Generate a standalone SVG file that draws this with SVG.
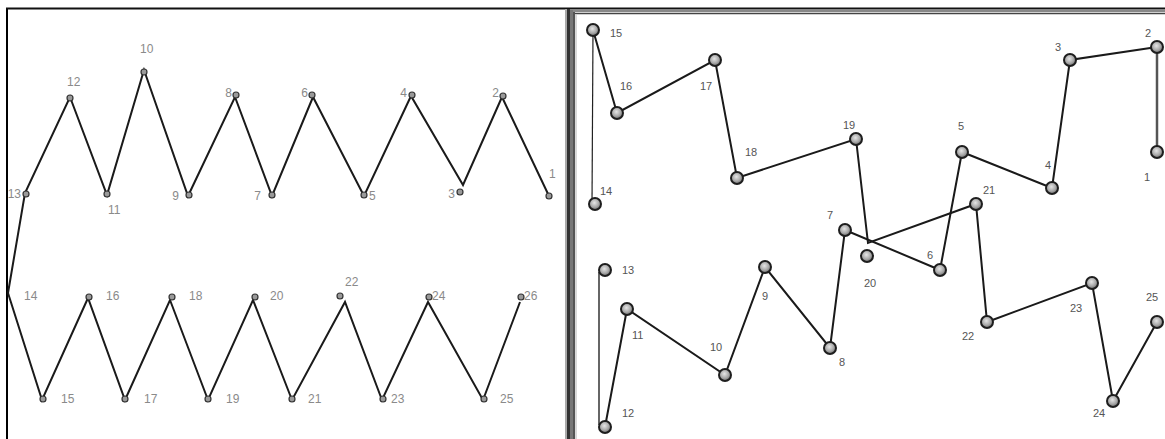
<svg xmlns="http://www.w3.org/2000/svg" width="1165" height="439" viewBox="0 0 1165 439">
<style>
.ln{stroke:#1a1a1a;stroke-width:2;fill:none;stroke-linejoin:miter}
.sn{fill:#9a9a9a;stroke:#333;stroke-width:1.2}
.lt{font-family:"Liberation Sans",Arial,sans-serif;font-size:12px;fill:#8a8a8a}
.rt{font-family:"Liberation Sans",Arial,sans-serif;font-size:11px;fill:#555}
.bn{fill:url(#sph);stroke:#1e1e1e;stroke-width:2}
</style>
<defs>
<radialGradient id="sph" cx="45%" cy="40%" r="60%">
<stop offset="0" stop-color="#e6e6e6"/>
<stop offset="0.6" stop-color="#a8a8a8"/>
<stop offset="1" stop-color="#6a6a6a"/>
</radialGradient>
</defs>
<rect width="1165" height="439" fill="#fff"/>
<!-- frames -->
<g id="frames">
<line x1="7" y1="8" x2="7" y2="439" stroke="#000" stroke-width="2"/>
<line x1="6" y1="8.5" x2="1165" y2="8.5" stroke="#111" stroke-width="2"/>
<line x1="566" y1="11" x2="1165" y2="11" stroke="#888" stroke-width="2"/>
<line x1="570" y1="13.5" x2="1165" y2="13.5" stroke="#444" stroke-width="1.5"/>
<line x1="566" y1="9" x2="566" y2="439" stroke="#aaa" stroke-width="2"/>
<line x1="568.5" y1="9" x2="568.5" y2="439" stroke="#333" stroke-width="3"/>
<line x1="571.5" y1="10" x2="571.5" y2="439" stroke="#777" stroke-width="3"/>
<line x1="574" y1="12" x2="574" y2="439" stroke="#555" stroke-width="2"/>
<line x1="576" y1="14" x2="576" y2="439" stroke="#ccc" stroke-width="1.5"/>
</g>
<!-- connectors -->
<g id="connectors">
<polyline class="ln" points="8,293 25,193 70,97 107,195 144,70 188,196 235,97 272,196 313,97 364,196 411,96 463,185 502,97 549,196"/>
<polyline class="ln" points="8,293 42,400 88,298 125,400 170,300 208,400 253,300 292,400 345,302 382,400 428,302 483,400 520,302"/>
<line x1="1157" y1="152" x2="1157" y2="47" stroke="#555" stroke-width="2.5"/>
<polyline class="ln" points="1157,47 1070,60 1052,188 962,152 940,270 845,230 830,348 765,267 725,375 627,309 605,427"/>
<line x1="599" y1="272" x2="599" y2="425" stroke="#666" stroke-width="2"/>
<line x1="593" y1="30" x2="592" y2="204" stroke="#222" stroke-width="1.2"/>
<polyline class="ln" points="593,30 617,113 715,60 737,178 856,139 868,243 976,204 987,322 1092,283 1113,401 1157,322"/>
</g>
<!-- left panel nodes -->
<g id="L1"><circle class="sn" cx="549" cy="196" r="3"/><text class="lt" x="549" y="178">1</text></g>
<g id="L2"><circle class="sn" cx="503" cy="96" r="3"/><text class="lt" x="499" y="97" text-anchor="end">2</text></g>
<g id="L3"><circle class="sn" cx="460" cy="192" r="3"/><text class="lt" x="455" y="198" text-anchor="end">3</text></g>
<g id="L4"><circle class="sn" cx="412" cy="95" r="3"/><text class="lt" x="407" y="97" text-anchor="end">4</text></g>
<g id="L5"><circle class="sn" cx="364" cy="195" r="3"/><text class="lt" x="369" y="200">5</text></g>
<g id="L6"><circle class="sn" cx="312" cy="95" r="3"/><text class="lt" x="308" y="97" text-anchor="end">6</text></g>
<g id="L7"><circle class="sn" cx="272" cy="195" r="3"/><text class="lt" x="261" y="200" text-anchor="end">7</text></g>
<g id="L8"><circle class="sn" cx="236" cy="95" r="3"/><text class="lt" x="232" y="97" text-anchor="end">8</text></g>
<g id="L9"><circle class="sn" cx="189" cy="195" r="3"/><text class="lt" x="179" y="200" text-anchor="end">9</text></g>
<g id="L10"><circle class="sn" cx="144" cy="72" r="3"/><text class="lt" x="140" y="53">10</text></g>
<g id="L11"><circle class="sn" cx="107" cy="194" r="3"/><text class="lt" x="108" y="214">11</text></g>
<g id="L12"><circle class="sn" cx="70" cy="98" r="3"/><text class="lt" x="67" y="86">12</text></g>
<g id="L13"><circle class="sn" cx="26" cy="194" r="3"/><text class="lt" x="21" y="198" text-anchor="end">13</text></g>
<g id="L14"><text class="lt" x="24" y="300">14</text></g>
<g id="L15"><circle class="sn" cx="43" cy="399" r="3"/><text class="lt" x="61" y="403">15</text></g>
<g id="L16"><circle class="sn" cx="89" cy="297" r="3"/><text class="lt" x="106" y="300">16</text></g>
<g id="L17"><circle class="sn" cx="125" cy="399" r="3"/><text class="lt" x="144" y="403">17</text></g>
<g id="L18"><circle class="sn" cx="172" cy="297" r="3"/><text class="lt" x="189" y="300">18</text></g>
<g id="L19"><circle class="sn" cx="208" cy="399" r="3"/><text class="lt" x="226" y="403">19</text></g>
<g id="L20"><circle class="sn" cx="255" cy="297" r="3"/><text class="lt" x="270" y="300">20</text></g>
<g id="L21"><circle class="sn" cx="292" cy="399" r="3"/><text class="lt" x="308" y="403">21</text></g>
<g id="L22"><circle class="sn" cx="340" cy="296" r="3"/><text class="lt" x="345" y="286">22</text></g>
<g id="L23"><circle class="sn" cx="383" cy="399" r="3"/><text class="lt" x="391" y="403">23</text></g>
<g id="L24"><circle class="sn" cx="429" cy="297" r="3"/><text class="lt" x="432" y="300">24</text></g>
<g id="L25"><circle class="sn" cx="484" cy="399" r="3"/><text class="lt" x="500" y="403">25</text></g>
<g id="L26"><circle class="sn" cx="521" cy="297" r="3"/><text class="lt" x="524" y="300">26</text></g>
<!-- right panel nodes -->
<g id="R1"><circle class="bn" cx="1157" cy="152" r="6"/><text class="rt" x="1144" y="181">1</text></g>
<g id="R2"><circle class="bn" cx="1157" cy="47" r="6"/><text class="rt" x="1145" y="37">2</text></g>
<g id="R3"><circle class="bn" cx="1070" cy="60" r="6"/><text class="rt" x="1055" y="51">3</text></g>
<g id="R4"><circle class="bn" cx="1052" cy="188" r="6"/><text class="rt" x="1045" y="169">4</text></g>
<g id="R5"><circle class="bn" cx="962" cy="152" r="6"/><text class="rt" x="958" y="130">5</text></g>
<g id="R6"><circle class="bn" cx="940" cy="270" r="6"/><text class="rt" x="927" y="259">6</text></g>
<g id="R7"><circle class="bn" cx="845" cy="230" r="6"/><text class="rt" x="827" y="219">7</text></g>
<g id="R8"><circle class="bn" cx="830" cy="348" r="6"/><text class="rt" x="839" y="366">8</text></g>
<g id="R9"><circle class="bn" cx="765" cy="267" r="6"/><text class="rt" x="762" y="300">9</text></g>
<g id="R10"><circle class="bn" cx="725" cy="375" r="6"/><text class="rt" x="710" y="351">10</text></g>
<g id="R11"><circle class="bn" cx="627" cy="309" r="6"/><text class="rt" x="632" y="339">11</text></g>
<g id="R12"><circle class="bn" cx="605" cy="427" r="6"/><text class="rt" x="622" y="417">12</text></g>
<g id="R13"><circle class="bn" cx="605" cy="270" r="6"/><text class="rt" x="622" y="274">13</text></g>
<g id="R14"><circle class="bn" cx="595" cy="204" r="6"/><text class="rt" x="600" y="195">14</text></g>
<g id="R15"><circle class="bn" cx="593" cy="30" r="6"/><text class="rt" x="610" y="37">15</text></g>
<g id="R16"><circle class="bn" cx="617" cy="113" r="6"/><text class="rt" x="620" y="90">16</text></g>
<g id="R17"><circle class="bn" cx="715" cy="60" r="6"/><text class="rt" x="700" y="90">17</text></g>
<g id="R18"><circle class="bn" cx="737" cy="178" r="6"/><text class="rt" x="745" y="156">18</text></g>
<g id="R19"><circle class="bn" cx="856" cy="139" r="6"/><text class="rt" x="843" y="129">19</text></g>
<g id="R20"><circle class="bn" cx="867" cy="256" r="6"/><text class="rt" x="864" y="287">20</text></g>
<g id="R21"><circle class="bn" cx="976" cy="204" r="6"/><text class="rt" x="983" y="194">21</text></g>
<g id="R22"><circle class="bn" cx="987" cy="322" r="6"/><text class="rt" x="962" y="340">22</text></g>
<g id="R23"><circle class="bn" cx="1092" cy="283" r="6"/><text class="rt" x="1070" y="312">23</text></g>
<g id="R24"><circle class="bn" cx="1113" cy="401" r="6"/><text class="rt" x="1093" y="417">24</text></g>
<g id="R25"><circle class="bn" cx="1157" cy="322" r="6"/><text class="rt" x="1146" y="301">25</text></g>
</svg>
